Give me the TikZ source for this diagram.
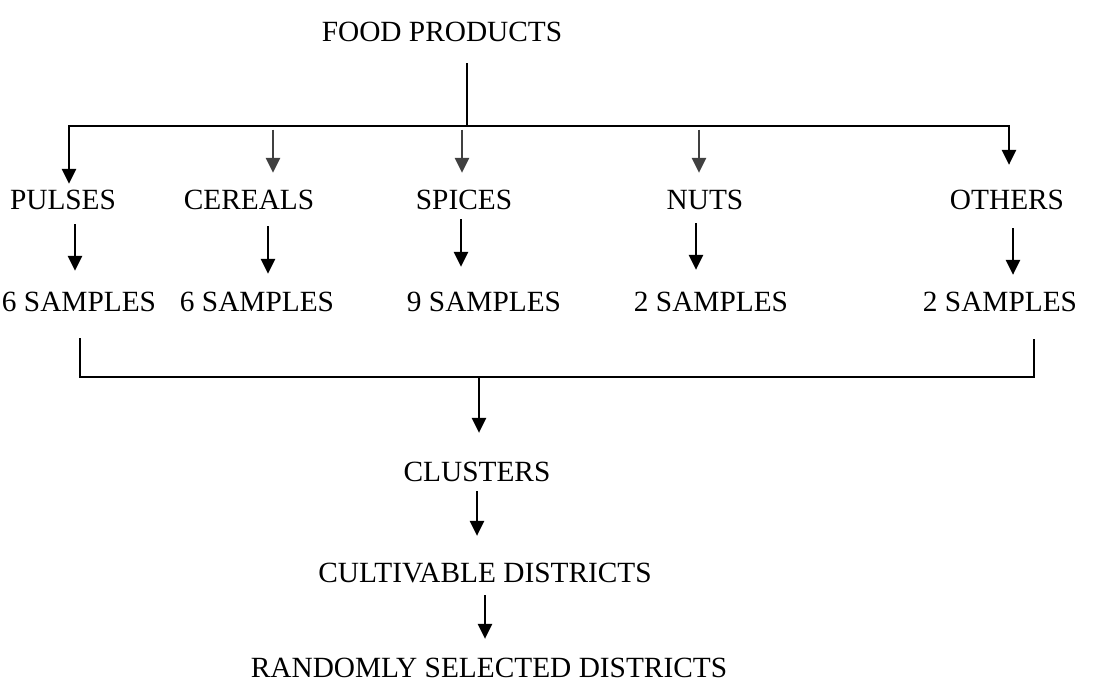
\documentclass[tikz,border=0pt]{standalone}
\usepackage{fontspec}
\setmainfont{Liberation Serif}
\usetikzlibrary{arrows.meta}
\definecolor{arrgray}{HTML}{404040}
\tikzset{
  lbl/.style={anchor=base, font=\fontsize{16.7}{20}\selectfont},
  arr/.style={line width=1.2pt, -{Triangle[length=8.5pt,width=8pt]}},
  grayarr/.style={arr, draw=arrgray, fill=arrgray},
}
\begin{document}
\begin{tikzpicture}[x=0.02cm, y=-0.02cm, line width=1pt]
  \useasboundingbox (0,0) rectangle (1109,682);
  % top: food products and the split bar
  \node[lbl] (food) at (442,42) {FOOD PRODUCTS};
  \coordinate (split) at (467,126);
  \coordinate (barL) at (69,126);
  \coordinate (barR) at (1009,126);
  % categories
  \node[lbl] (pulses)  at (63,210)   {PULSES};
  \node[lbl] (cereals) at (249,210)  {CEREALS};
  \node[lbl] (spices)  at (464,210)  {SPICES};
  \node[lbl] (nuts)    at (705,210)  {NUTS};
  \node[lbl] (others)  at (1007,210) {OTHERS};
  % samples
  \node[lbl] (s1) at (79,312)   {6 SAMPLES};
  \node[lbl] (s2) at (257,312)  {6 SAMPLES};
  \node[lbl] (s3) at (484,312)  {9 SAMPLES};
  \node[lbl] (s4) at (711,312)  {2 SAMPLES};
  \node[lbl] (s5) at (1000,312) {2 SAMPLES};
  % lower chain
  \node[lbl] (clusters) at (477,481) {CLUSTERS};
  \node[lbl] (cult)     at (485,582) {CULTIVABLE DISTRICTS};
  \node[lbl] (rand)     at (489,677) {RANDOMLY SELECTED DISTRICTS};
  % arrow columns
  \coordinate (cerTop) at (273,130);
  \coordinate (spiTop) at (462,130);
  \coordinate (nutTop) at (699,130);
  \coordinate (colA) at (75,0);
  \coordinate (colB) at (268,0);
  \coordinate (colC) at (461,0);
  \coordinate (colD) at (696,0);
  \coordinate (colE) at (1013,0);
  % bottom bracket
  \coordinate (joinL) at (80,377);
  \coordinate (joinR) at (1034,377);
  \coordinate (merge) at (479,377);

  % split from food products
  \draw[shorten <=0.28cm] (food.south -| split) -- (split);
  \draw[arr] (split) -- (barL) -- (barL |- pulses.north);
  \draw[arr, shorten >=0.38cm] (split) -- (barR) -- (barR |- others.north);
  \draw[grayarr, shorten >=0.22cm] (cerTop) -- (cerTop |- cereals.north);
  \draw[grayarr, shorten >=0.22cm] (spiTop) -- (spiTop |- spices.north);
  \draw[grayarr, shorten >=0.22cm] (nutTop) -- (nutTop |- nuts.north);

  % categories to samples
  \draw[arr, shorten <=0.14cm, shorten >=0.3cm] (pulses.south -| colA) -- (s1.north -| colA);
  \draw[arr, shorten <=0.18cm, shorten >=0.24cm] (cereals.south -| colB) -- (s2.north -| colB);
  \draw[arr, shorten <=0.04cm, shorten >=0.38cm] (spices.south -| colC) -- (s3.north -| colC);
  \draw[arr, shorten <=0.12cm, shorten >=0.32cm] (nuts.south -| colD) -- (s4.north -| colD);
  \draw[arr, shorten <=0.22cm, shorten >=0.22cm] (others.south -| colE) -- (s5.north -| colE);

  % merge into clusters
  \draw[shorten <=0.38cm, shorten >=0.4cm] (s1.south -| joinL) -- (joinL) -- (joinR) -- (s5.south -| joinR);
  \draw[arr, shorten >=0.44cm] (merge) -- (merge |- clusters.north);
  \draw[arr, shorten <=0.06cm, shorten >=0.4cm] (clusters.south) -- (clusters.south |- cult.north);
  \draw[arr, shorten <=0.12cm, shorten >=0.24cm] (cult.south) -- (cult.south |- rand.north);
\end{tikzpicture}
\end{document}
